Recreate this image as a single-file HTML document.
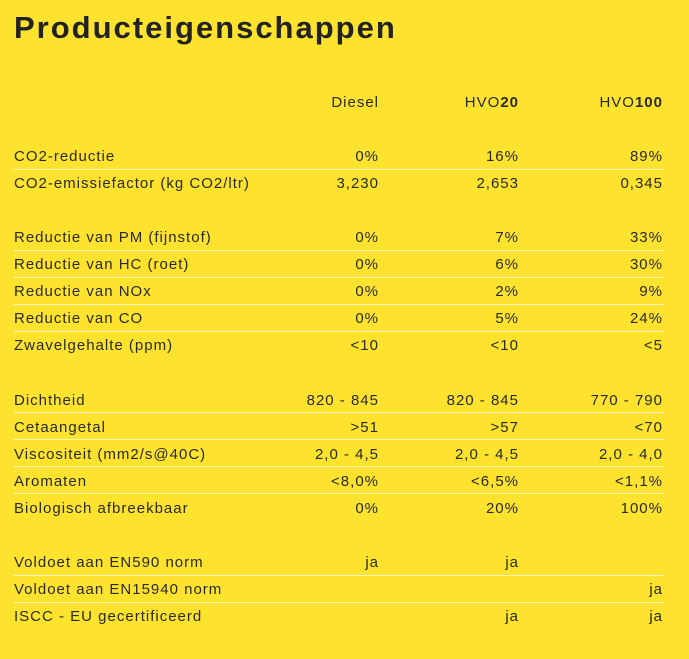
<!DOCTYPE html>
<html><head><meta charset="utf-8"><style>
body{margin:0;width:689px;height:659px;background:#FDE32E;font-family:"Liberation Sans",sans-serif;color:#2a2a2a;position:relative;overflow:hidden}
h1{position:absolute;left:14px;top:10px;margin:0;font-size:31px;font-weight:bold;color:#222;letter-spacing:2px}
.r{position:absolute;left:14px;width:649px;height:27px;font-size:15px;letter-spacing:1px}
.r span{position:absolute;top:0;line-height:20px}
.l{left:0}.c1{right:284px}.c2{right:144px}.c3{right:0}
.line{position:absolute;left:14px;width:649px;height:1px;background:#fff6b8}
</style></head><body>
<h1>Producteigenschappen</h1>
<div id="t"></div>
<script>
const rows=[
[93,"","Diesel","HVO<b>20</b>","HVO<b>100</b>"],
[147,"CO2-reductie","0%","16%","89%"],
[174,"CO2-emissiefactor (kg CO2/ltr)","3,230","2,653","0,345"],
[228,"Reductie van PM (fijnstof)","0%","7%","33%"],
[255,"Reductie van HC (roet)","0%","6%","30%"],
[282,"Reductie van NOx","0%","2%","9%"],
[309,"Reductie van CO","0%","5%","24%"],
[336,"Zwavelgehalte (ppm)","<10","<10","<5"],
[391,"Dichtheid","820 - 845","820 - 845","770 - 790"],
[418,"Cetaangetal",">51",">57","<70"],
[445,"Viscositeit (mm2/s@40C)","2,0 - 4,5","2,0 - 4,5","2,0 - 4,0"],
[472,"Aromaten","<8,0%","<6,5%","<1,1%"],
[499,"Biologisch afbreekbaar","0%","20%","100%"],
[553,"Voldoet aan EN590 norm","ja","ja",""],
[580,"Voldoet aan EN15940 norm","","","ja"],
[607,"ISCC - EU gecertificeerd","","ja","ja"]];
const lines=[169,250,277,304,331,412,439,466,493,575,602];
const t=document.getElementById('t');
rows.forEach(r=>{const d=document.createElement('div');d.className='r';d.style.top=r[0]+'px';


const cls=['l','c1','c2','c3'];
for(let i=0;i<4;i++){const s=document.createElement('span');s.className=cls[i];


if(r[i+1].includes('<b>'))s.innerHTML=r[i+1];else s.textContent=r[i+1];d.appendChild(s);}
t.appendChild(d);});
lines.forEach(y=>{const l=document.createElement('div');l.className='line';l.style.top=y+'px';


t.appendChild(l);});
</script>
</body></html>
